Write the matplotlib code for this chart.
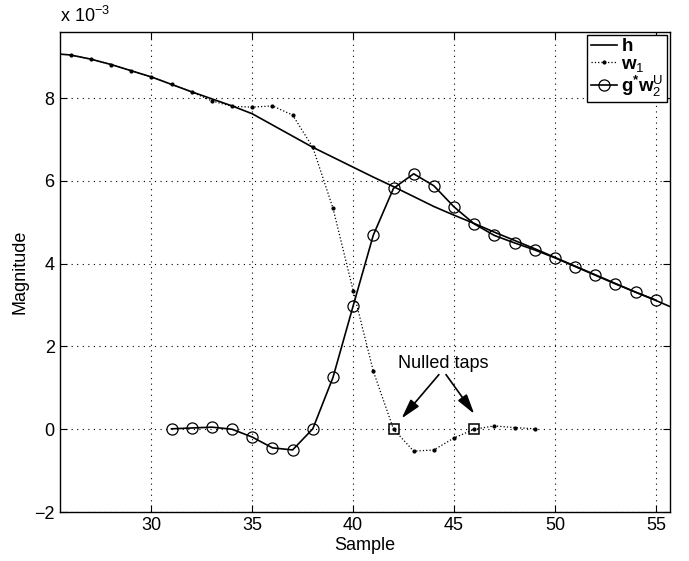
import numpy as np
import matplotlib
matplotlib.use("Agg")
import matplotlib.pyplot as plt

plt.rcParams['font.family'] = ['Liberation Sans', 'DejaVu Sans']
plt.rcParams['mathtext.fontset'] = 'custom'
plt.rcParams['mathtext.rm'] = 'Liberation Sans'
plt.rcParams['mathtext.bf'] = 'Liberation Sans:bold'
plt.rcParams['mathtext.it'] = 'Liberation Sans:italic'

# data (units of 1e-3)
h_x = list(range(25, 57))
h_y = [9.08, 9.04, 8.94, 8.81, 8.66, 8.51, 8.33, 8.15, 7.98, 7.81, 7.62,
       7.35, 7.08, 6.81, 6.57, 6.33, 6.09, 5.86, 5.62, 5.38, 5.17, 4.97,
       4.76, 4.56, 4.36, 4.15, 3.94, 3.73, 3.52, 3.31, 3.11, 2.90]

w1_x = list(range(26, 50))
w1_y = [9.04, 8.94, 8.81, 8.66, 8.51, 8.33, 8.15, 7.93, 7.80, 7.78, 7.81,
        7.59, 6.81, 5.34, 3.35, 1.40, 0.0, -0.53, -0.50, -0.21, 0.0, 0.08,
        0.04, 0.01]

g_x = list(range(31, 56))
g_y = [0.01, 0.03, 0.05, 0.0, -0.19, -0.45, -0.50, 0.01, 1.25, 2.98, 4.69,
       5.82, 6.17, 5.88, 5.37, 4.96, 4.68, 4.50, 4.33, 4.14, 3.93, 3.72,
       3.51, 3.31, 3.12]

null_x = [42, 46]
null_y = [0.0, 0.0]

fig = plt.figure(figsize=(6.89, 5.61), dpi=100)
ax = fig.add_axes([0.0864, 0.0873, 0.886, 0.856])

ax.plot(h_x, h_y, '-', color='black', lw=1.2, label=r'$\mathbf{h}$')
ax.plot(w1_x, w1_y, ':', color='black', lw=0.9, marker='.', markersize=4,
        label=r'$\mathbf{w}_1$')
ax.plot(g_x, g_y, '-', color='black', lw=1.2, marker='o', markersize=8,
        markerfacecolor='none', markeredgewidth=0.9,
        label=r'$\mathbf{g}^{\mathbf{*}}\mathbf{w}_2^{\mathrm{U}}$')
ax.plot(null_x, null_y, 's', color='black', markersize=6.5,
        markerfacecolor='none', markeredgewidth=1.1)

ax.set_xlim(25.45, 55.7)
ax.set_ylim(-2.0, 9.6)
ax.set_xticks([30, 35, 40, 45, 50, 55])
ax.set_yticks([-2, 0, 2, 4, 6, 8])
ax.grid(True, linestyle=(0, (1, 4)), color='black', lw=0.8)
ax.tick_params(direction='in', top=True, right=True, labelsize=13, length=5)
for s in ax.spines.values():
    s.set_linewidth(1.0)

ax.set_xlabel('Sample', fontsize=13, labelpad=2)
ax.set_ylabel('Magnitude', fontsize=13, labelpad=4)
ax.text(0.0, 1.012, r'x 10$^{\mathregular{-3}}$', transform=ax.transAxes,
        fontsize=13, ha='left', va='bottom')

arrow_props = dict(arrowstyle='-|>,head_length=0.8,head_width=0.22',
                   color='black', lw=1.2, mutation_scale=15,
                   shrinkA=0, shrinkB=0)
ax.annotate('', xy=(42.4, 0.26), xytext=(44.25, 1.32), arrowprops=arrow_props)
ax.annotate('', xy=(46.0, 0.37), xytext=(44.6, 1.32), arrowprops=arrow_props)
ax.text(44.45, 1.38, 'Nulled taps', fontsize=13, ha='center', va='bottom')

leg = ax.legend(loc='upper right', fontsize=13.5, frameon=True, fancybox=False,
                edgecolor='black', framealpha=1, borderpad=0.2,
                labelspacing=0.0, handlelength=1.4, handletextpad=0.2,
                borderaxespad=0.15)
leg.get_frame().set_linewidth(1.0)

fig.savefig('out.png', dpi=100)
